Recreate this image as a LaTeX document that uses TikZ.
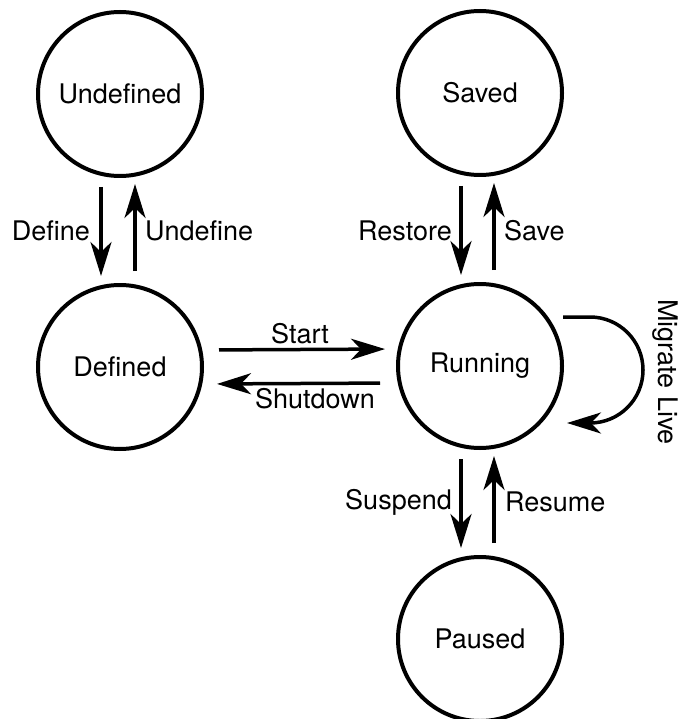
\documentclass[tikz,border=0pt]{standalone}
\usepackage{fontspec}
\setmainfont{TeX Gyre Heros}
\usetikzlibrary{arrows.meta}
\begin{document}
\begin{tikzpicture}[x=1pt,y=-1pt,
  font=\fontsize{27}{32}\selectfont,
  state/.style={circle,draw,line width=4pt,minimum size=164pt,inner sep=0pt},
  arr/.style={line width=3.5pt,-{Stealth[length=34pt,width=21pt,inset=10pt]}},
  lbl/.style={inner sep=0pt}]
\useasboundingbox[fill=white] (0,0) rectangle (678,719);

% states
\node[state] (u) at (120,94)  {Undefined};
\node[state] (s) at (480,93)  {Saved};
\node[state] (d) at (120,367) {Defined};
\node[state] (r) at (480,366) {Running};
\node[state] (p) at (480,639) {Paused};

% Undefined <-> Defined
\draw[arr,shorten <=9pt,shorten >=7pt] ([xshift=-19pt]u.south) -- ([xshift=-19pt]d.north);
\draw[arr,shorten <=12pt,shorten >=6pt] ([xshift=15pt]d.north) -- ([xshift=15pt]u.south);
\node[lbl,anchor=east] (ldef) at (90,231) {Define};
\node[lbl,anchor=west] (lundef) at (145,231) {Undefine};

% Saved <-> Running
\draw[arr,shorten <=9pt,shorten >=7pt] ([xshift=-19pt]s.south) -- ([xshift=-19pt]r.north);
\draw[arr,shorten <=12pt,shorten >=6pt] ([xshift=14pt]r.north) -- ([xshift=14pt]s.south);
\node[lbl,anchor=east] (lrest) at (452,231) {Restore};
\node[lbl,anchor=west] (lsave) at (504,231) {Save};

% Defined <-> Running
\draw[arr,shorten <=15pt,shorten >=11pt] ([yshift=17pt]d.east) -- ([yshift=17pt]r.west);
\draw[arr,shorten <=16pt,shorten >=13pt] ([yshift=-17pt]r.west) -- ([yshift=-17pt]d.east);
\node[lbl] (lstart) at (300,334) {Start};
\node[lbl] (lshut) at (315,399) {Shutdown};

% Running <-> Paused
\draw[arr,shorten <=9pt,shorten >=7pt] ([xshift=-19pt]r.south) -- ([xshift=-19pt]p.north);
\draw[arr,shorten <=12pt,shorten >=6pt] ([xshift=14pt]p.north) -- ([xshift=14pt]r.south);
\node[lbl,anchor=east] (lsusp) at (452,502) {Suspend};
\node[lbl,anchor=west] (lres) at (505,502) {Resume};

% live migration loop
\coordinate (ls) at ([xshift=83pt,yshift=49pt]r.center);
\coordinate (le) at ([xshift=87pt,yshift=-57pt]r.center);
\draw[arr] (ls) -- ++(27pt,0pt) arc[start angle=90,end angle=-90,radius=53pt] -- (le);
\node[lbl,rotate=-90] (lmig) at (665,372) {Migrate Live};
\end{tikzpicture}
\end{document}
